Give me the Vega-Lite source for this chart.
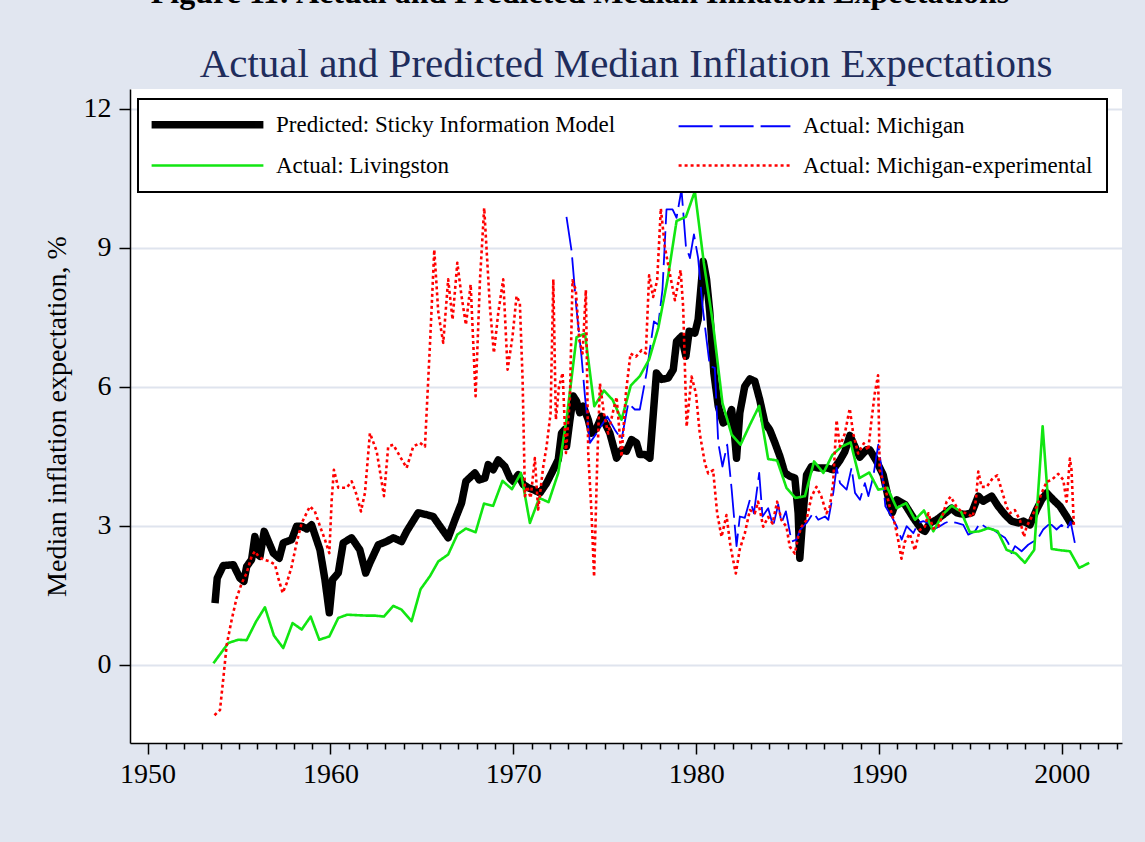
{
  "$schema": "https://vega.github.io/schema/vega-lite/v6.json",
  "width": 992,
  "height": 654,
  "autosize": {"type": "none"},
  "padding": {"left": 130, "top": 89, "right": 23, "bottom": 99},
  "background": "#e1e6f0",
  "view": {"fill": "white", "stroke": null},
  "title": {
    "text": "Figure 11: Actual and Predicted Median Inflation Expectations\u2800\u2800\u2800\u2800",
    "subtitle": "Actual and Predicted Median Inflation Expectations",
    "anchor": "middle",
    "font": "Liberation Serif",
    "fontSize": 32,
    "fontWeight": "bold",
    "color": "black",
    "subtitleFont": "Liberation Serif",
    "subtitleFontSize": 41,
    "subtitleColor": "#1f2d5c",
    "subtitlePadding": 35,
    "offset": 3
  },
  "data": {
    "values": [
      {"s":"A","t":1953.69,"v":1.33},{"s":"A","t":1953.81,"v":1.87},{"s":"A","t":1954.14,"v":2.14},{"s":"A","t":1954.69,"v":2.16},
      {"s":"A","t":1955.05,"v":1.87},{"s":"A","t":1955.27,"v":1.8},{"s":"A","t":1955.42,"v":2.12},{"s":"A","t":1955.69,"v":2.27},
      {"s":"A","t":1955.87,"v":2.77},{"s":"A","t":1956.06,"v":2.37},{"s":"A","t":1956.15,"v":2.34},{"s":"A","t":1956.38,"v":2.88},
      {"s":"A","t":1956.88,"v":2.41},{"s":"A","t":1957.2,"v":2.3},{"s":"A","t":1957.42,"v":2.63},{"s":"A","t":1957.88,"v":2.7},
      {"s":"A","t":1958.15,"v":2.99},{"s":"A","t":1958.43,"v":2.99},{"s":"A","t":1958.7,"v":2.93},{"s":"A","t":1958.97,"v":3.02},
      {"s":"A","t":1959.43,"v":2.48},{"s":"A","t":1959.7,"v":1.84},{"s":"A","t":1959.94,"v":1.12},{"s":"A","t":1960.12,"v":1.84},
      {"s":"A","t":1960.43,"v":1.98},{"s":"A","t":1960.7,"v":2.63},{"s":"A","t":1961.16,"v":2.74},{"s":"A","t":1961.61,"v":2.48},
      {"s":"A","t":1961.93,"v":1.98},{"s":"A","t":1962.16,"v":2.2},{"s":"A","t":1962.62,"v":2.59},{"s":"A","t":1963.07,"v":2.66},
      {"s":"A","t":1963.44,"v":2.74},{"s":"A","t":1963.89,"v":2.66},{"s":"A","t":1964.17,"v":2.88},{"s":"A","t":1964.8,"v":3.28},
      {"s":"A","t":1965.26,"v":3.24},{"s":"A","t":1965.62,"v":3.2},{"s":"A","t":1965.99,"v":2.99},{"s":"A","t":1966.44,"v":2.74},
      {"s":"A","t":1966.81,"v":3.13},{"s":"A","t":1967.17,"v":3.49},{"s":"A","t":1967.41,"v":3.96},{"s":"A","t":1967.9,"v":4.14},
      {"s":"A","t":1968.14,"v":3.99},{"s":"A","t":1968.45,"v":4.03},{"s":"A","t":1968.63,"v":4.32},{"s":"A","t":1968.9,"v":4.21},
      {"s":"A","t":1969.18,"v":4.42},{"s":"A","t":1969.54,"v":4.28},{"s":"A","t":1969.82,"v":4.03},{"s":"A","t":1970.0,"v":3.96},
      {"s":"A","t":1970.27,"v":4.1},{"s":"A","t":1970.55,"v":3.89},{"s":"A","t":1970.82,"v":3.82},{"s":"A","t":1971.09,"v":3.78},
      {"s":"A","t":1971.46,"v":3.71},{"s":"A","t":1971.82,"v":3.92},{"s":"A","t":1972.19,"v":4.21},{"s":"A","t":1972.46,"v":4.43},
      {"s":"A","t":1972.64,"v":5.0},{"s":"A","t":1972.82,"v":5.08},{"s":"A","t":1972.91,"v":4.71},{"s":"A","t":1973.1,"v":5.29},
      {"s":"A","t":1973.28,"v":5.8},{"s":"A","t":1973.46,"v":5.69},{"s":"A","t":1973.64,"v":5.44},{"s":"A","t":1973.83,"v":5.58},
      {"s":"A","t":1974.1,"v":5.29},{"s":"A","t":1974.28,"v":5.0},{"s":"A","t":1974.56,"v":5.11},{"s":"A","t":1974.83,"v":5.36},
      {"s":"A","t":1975.01,"v":5.22},{"s":"A","t":1975.28,"v":5.0},{"s":"A","t":1975.65,"v":4.46},{"s":"A","t":1975.92,"v":4.64},
      {"s":"A","t":1976.19,"v":4.61},{"s":"A","t":1976.47,"v":4.86},{"s":"A","t":1976.74,"v":4.79},{"s":"A","t":1976.92,"v":4.54},
      {"s":"A","t":1977.2,"v":4.54},{"s":"A","t":1977.47,"v":4.46},{"s":"A","t":1977.83,"v":6.3},{"s":"A","t":1978.11,"v":6.16},
      {"s":"A","t":1978.47,"v":6.19},{"s":"A","t":1978.75,"v":6.37},{"s":"A","t":1978.93,"v":6.98},{"s":"A","t":1979.2,"v":7.09},
      {"s":"A","t":1979.44,"v":6.66},{"s":"A","t":1979.62,"v":7.2},{"s":"A","t":1979.93,"v":7.16},{"s":"A","t":1980.11,"v":7.45},
      {"s":"A","t":1980.39,"v":8.71},{"s":"A","t":1980.57,"v":8.32},{"s":"A","t":1980.75,"v":7.6},{"s":"A","t":1980.97,"v":6.3},
      {"s":"A","t":1981.21,"v":5.58},{"s":"A","t":1981.48,"v":5.22},{"s":"A","t":1981.75,"v":5.29},{"s":"A","t":1981.94,"v":5.51},
      {"s":"A","t":1982.06,"v":5.15},{"s":"A","t":1982.21,"v":4.46},{"s":"A","t":1982.39,"v":5.44},{"s":"A","t":1982.66,"v":6.01},
      {"s":"A","t":1982.94,"v":6.17},{"s":"A","t":1983.21,"v":6.12},{"s":"A","t":1983.48,"v":5.72},{"s":"A","t":1983.76,"v":5.22},
      {"s":"A","t":1984.03,"v":5.07},{"s":"A","t":1984.31,"v":4.79},{"s":"A","t":1984.58,"v":4.5},{"s":"A","t":1984.85,"v":4.14},
      {"s":"A","t":1985.13,"v":4.07},{"s":"A","t":1985.4,"v":4.03},{"s":"A","t":1985.58,"v":3.27},{"s":"A","t":1985.67,"v":2.3},
      {"s":"A","t":1985.85,"v":3.27},{"s":"A","t":1986.04,"v":4.1},{"s":"A","t":1986.31,"v":4.28},{"s":"A","t":1986.67,"v":4.25},
      {"s":"A","t":1987.13,"v":4.25},{"s":"A","t":1987.49,"v":4.21},{"s":"A","t":1987.86,"v":4.41},{"s":"A","t":1988.13,"v":4.6},
      {"s":"A","t":1988.41,"v":4.95},{"s":"A","t":1988.68,"v":4.71},{"s":"A","t":1988.95,"v":4.48},{"s":"A","t":1989.32,"v":4.64},
      {"s":"A","t":1989.5,"v":4.64},{"s":"A","t":1989.86,"v":4.4},{"s":"A","t":1990.23,"v":4.1},{"s":"A","t":1990.5,"v":3.62},
      {"s":"A","t":1990.72,"v":3.28},{"s":"A","t":1990.97,"v":3.56},{"s":"A","t":1991.42,"v":3.46},{"s":"A","t":1991.88,"v":3.17},
      {"s":"A","t":1992.33,"v":2.92},{"s":"A","t":1992.51,"v":2.88},{"s":"A","t":1992.79,"v":3.06},{"s":"A","t":1993.15,"v":3.13},
      {"s":"A","t":1993.52,"v":3.24},{"s":"A","t":1993.97,"v":3.38},{"s":"A","t":1994.25,"v":3.28},{"s":"A","t":1994.7,"v":3.24},
      {"s":"A","t":1995.07,"v":3.28},{"s":"A","t":1995.43,"v":3.64},{"s":"A","t":1995.7,"v":3.53},{"s":"A","t":1996.16,"v":3.64},
      {"s":"A","t":1996.52,"v":3.42},{"s":"A","t":1996.89,"v":3.24},{"s":"A","t":1997.25,"v":3.1},{"s":"A","t":1997.62,"v":3.06},
      {"s":"A","t":1997.89,"v":3.1},{"s":"A","t":1998.26,"v":3.02},{"s":"A","t":1998.62,"v":3.35},{"s":"A","t":1998.89,"v":3.56},
      {"s":"A","t":1999.17,"v":3.71},{"s":"A","t":1999.53,"v":3.56},{"s":"A","t":1999.9,"v":3.42},{"s":"A","t":2000.26,"v":3.2},
      {"s":"A","t":2000.53,"v":3.02},

      {"s":"B","t":1972.91,"v":9.67},{"s":"B","t":1973.19,"v":8.93},{"s":"B","t":1973.46,"v":7.67},{"s":"B","t":1973.73,"v":6.66},
      {"s":"B","t":1973.92,"v":5.8},{"s":"B","t":1974.19,"v":4.79},{"s":"B","t":1974.56,"v":5.0},{"s":"B","t":1975.14,"v":5.36},
      {"s":"B","t":1975.56,"v":5.07},{"s":"B","t":1975.92,"v":4.86},{"s":"B","t":1976.29,"v":5.65},{"s":"B","t":1976.65,"v":5.51},
      {"s":"B","t":1976.92,"v":5.51},{"s":"B","t":1977.29,"v":6.3},{"s":"B","t":1977.69,"v":7.41},{"s":"B","t":1977.93,"v":7.34},
      {"s":"B","t":1978.16,"v":8.1},{"s":"B","t":1978.38,"v":9.83},{"s":"B","t":1978.71,"v":9.83},{"s":"B","t":1978.93,"v":9.65},
      {"s":"B","t":1979.2,"v":10.26},{"s":"B","t":1979.44,"v":9.04},{"s":"B","t":1979.66,"v":8.78},{"s":"B","t":1979.88,"v":9.29},
      {"s":"B","t":1980.11,"v":8.78},{"s":"B","t":1980.35,"v":7.74},{"s":"B","t":1980.57,"v":7.02},{"s":"B","t":1980.75,"v":6.44},
      {"s":"B","t":1981.02,"v":6.41},{"s":"B","t":1981.21,"v":4.79},{"s":"B","t":1981.44,"v":4.28},{"s":"B","t":1981.7,"v":4.75},
      {"s":"B","t":1981.94,"v":3.8},{"s":"B","t":1982.21,"v":2.56},{"s":"B","t":1982.39,"v":3.2},{"s":"B","t":1982.66,"v":3.17},
      {"s":"B","t":1982.94,"v":3.56},{"s":"B","t":1983.16,"v":3.27},{"s":"B","t":1983.45,"v":4.14},{"s":"B","t":1983.63,"v":3.2},
      {"s":"B","t":1983.94,"v":3.38},{"s":"B","t":1984.21,"v":2.99},{"s":"B","t":1984.49,"v":3.46},{"s":"B","t":1984.67,"v":3.06},
      {"s":"B","t":1984.91,"v":3.31},{"s":"B","t":1985.22,"v":2.66},{"s":"B","t":1985.49,"v":2.7},{"s":"B","t":1985.68,"v":2.91},
      {"s":"B","t":1986.04,"v":3.06},{"s":"B","t":1986.41,"v":3.28},{"s":"B","t":1986.68,"v":3.13},{"s":"B","t":1987.05,"v":3.2},
      {"s":"B","t":1987.23,"v":3.13},{"s":"B","t":1987.5,"v":3.71},{"s":"B","t":1987.68,"v":4.25},{"s":"B","t":1987.87,"v":3.92},
      {"s":"B","t":1988.23,"v":3.78},{"s":"B","t":1988.5,"v":4.25},{"s":"B","t":1988.69,"v":3.71},{"s":"B","t":1988.96,"v":3.56},
      {"s":"B","t":1989.23,"v":3.92},{"s":"B","t":1989.42,"v":3.64},{"s":"B","t":1989.69,"v":4.07},{"s":"B","t":1989.96,"v":4.75},
      {"s":"B","t":1990.15,"v":4.21},{"s":"B","t":1990.35,"v":3.42},{"s":"B","t":1990.69,"v":3.2},{"s":"B","t":1990.97,"v":2.99},
      {"s":"B","t":1991.24,"v":2.7},{"s":"B","t":1991.51,"v":2.99},{"s":"B","t":1991.88,"v":2.84},{"s":"B","t":1992.15,"v":3.06},
      {"s":"B","t":1992.42,"v":3.1},{"s":"B","t":1992.7,"v":3.06},{"s":"B","t":1992.97,"v":2.92},{"s":"B","t":1993.33,"v":2.99},
      {"s":"B","t":1993.61,"v":3.06},{"s":"B","t":1993.88,"v":3.1},{"s":"B","t":1994.25,"v":3.06},{"s":"B","t":1994.61,"v":3.02},
      {"s":"B","t":1994.88,"v":2.81},{"s":"B","t":1995.25,"v":2.88},{"s":"B","t":1995.52,"v":3.06},{"s":"B","t":1995.89,"v":2.95},
      {"s":"B","t":1996.25,"v":2.92},{"s":"B","t":1996.61,"v":2.81},{"s":"B","t":1996.89,"v":2.74},{"s":"B","t":1997.07,"v":2.63},
      {"s":"B","t":1997.25,"v":2.41},{"s":"B","t":1997.44,"v":2.56},{"s":"B","t":1997.8,"v":2.45},{"s":"B","t":1998.16,"v":2.59},
      {"s":"B","t":1998.44,"v":2.66},{"s":"B","t":1998.71,"v":2.74},{"s":"B","t":1998.98,"v":2.92},{"s":"B","t":1999.26,"v":3.02},
      {"s":"B","t":1999.44,"v":3.02},{"s":"B","t":1999.71,"v":2.92},{"s":"B","t":1999.98,"v":3.02},{"s":"B","t":2000.26,"v":2.91},
      {"s":"B","t":2000.48,"v":3.09},{"s":"B","t":2000.71,"v":2.63},

      {"s":"C","t":1953.6,"v":0.03},{"s":"C","t":1954.42,"v":0.47},{"s":"C","t":1954.96,"v":0.54},{"s":"C","t":1955.42,"v":0.53},
      {"s":"C","t":1955.93,"v":0.93},{"s":"C","t":1956.42,"v":1.24},{"s":"C","t":1956.91,"v":0.63},{"s":"C","t":1957.42,"v":0.36},
      {"s":"C","t":1957.93,"v":0.9},{"s":"C","t":1958.43,"v":0.76},{"s":"C","t":1958.92,"v":1.04},{"s":"C","t":1959.39,"v":0.54},
      {"s":"C","t":1959.94,"v":0.61},{"s":"C","t":1960.43,"v":1.01},{"s":"C","t":1960.92,"v":1.08},{"s":"C","t":1961.43,"v":1.07},
      {"s":"C","t":1961.98,"v":1.06},{"s":"C","t":1962.43,"v":1.06},{"s":"C","t":1962.93,"v":1.04},{"s":"C","t":1963.44,"v":1.27},
      {"s":"C","t":1963.89,"v":1.19},{"s":"C","t":1964.44,"v":0.94},{"s":"C","t":1964.93,"v":1.63},{"s":"C","t":1965.44,"v":1.91},
      {"s":"C","t":1965.9,"v":2.23},{"s":"C","t":1966.44,"v":2.38},{"s":"C","t":1966.94,"v":2.81},{"s":"C","t":1967.41,"v":2.94},
      {"s":"C","t":1967.94,"v":2.86},{"s":"C","t":1968.4,"v":3.48},{"s":"C","t":1968.9,"v":3.43},{"s":"C","t":1969.41,"v":3.97},
      {"s":"C","t":1969.93,"v":3.79},{"s":"C","t":1970.42,"v":4.14},{"s":"C","t":1970.91,"v":3.06},{"s":"C","t":1971.42,"v":3.6},
      {"s":"C","t":1971.93,"v":3.51},{"s":"C","t":1972.46,"v":4.14},{"s":"C","t":1972.93,"v":5.35},{"s":"C","t":1973.46,"v":7.07},
      {"s":"C","t":1973.92,"v":7.15},{"s":"C","t":1974.43,"v":5.58},{"s":"C","t":1974.96,"v":5.92},{"s":"C","t":1975.43,"v":5.72},
      {"s":"C","t":1975.92,"v":5.29},{"s":"C","t":1976.43,"v":6.03},{"s":"C","t":1976.92,"v":6.23},{"s":"C","t":1977.43,"v":6.59},
      {"s":"C","t":1977.93,"v":7.27},{"s":"C","t":1978.44,"v":8.32},{"s":"C","t":1978.93,"v":9.58},{"s":"C","t":1979.44,"v":9.67},
      {"s":"C","t":1979.93,"v":10.22},{"s":"C","t":1980.42,"v":8.68},{"s":"C","t":1980.93,"v":7.34},{"s":"C","t":1981.44,"v":5.65},
      {"s":"C","t":1981.94,"v":4.97},{"s":"C","t":1982.43,"v":4.75},{"s":"C","t":1982.94,"v":5.18},{"s":"C","t":1983.45,"v":5.59},
      {"s":"C","t":1983.94,"v":4.44},{"s":"C","t":1984.43,"v":4.41},{"s":"C","t":1984.94,"v":3.82},{"s":"C","t":1985.43,"v":3.6},
      {"s":"C","t":1985.95,"v":3.64},{"s":"C","t":1986.45,"v":4.39},{"s":"C","t":1986.96,"v":4.14},{"s":"C","t":1987.45,"v":4.53},
      {"s":"C","t":1987.96,"v":4.71},{"s":"C","t":1988.45,"v":4.8},{"s":"C","t":1988.93,"v":4.03},{"s":"C","t":1989.47,"v":4.15},
      {"s":"C","t":1989.96,"v":3.78},{"s":"C","t":1990.46,"v":3.82},{"s":"C","t":1990.97,"v":3.38},{"s":"C","t":1991.48,"v":3.49},
      {"s":"C","t":1991.97,"v":3.13},{"s":"C","t":1992.46,"v":3.33},{"s":"C","t":1992.97,"v":2.88},{"s":"C","t":1993.48,"v":3.24},
      {"s":"C","t":1993.97,"v":3.43},{"s":"C","t":1994.48,"v":3.31},{"s":"C","t":1994.97,"v":2.86},{"s":"C","t":1995.48,"v":2.88},
      {"s":"C","t":1995.98,"v":2.95},{"s":"C","t":1996.49,"v":2.88},{"s":"C","t":1996.98,"v":2.48},{"s":"C","t":1997.49,"v":2.4},
      {"s":"C","t":1997.98,"v":2.2},{"s":"C","t":1998.49,"v":2.48},{"s":"C","t":1998.95,"v":5.15},{"s":"C","t":1999.44,"v":2.5},
      {"s":"C","t":1999.95,"v":2.47},{"s":"C","t":2000.44,"v":2.45},{"s":"C","t":2000.95,"v":2.09},{"s":"C","t":2001.5,"v":2.2},

      {"s":"D","t":1953.66,"v":-1.09},{"s":"D","t":1953.96,"v":-0.98},{"s":"D","t":1954.1,"v":-0.46},{"s":"D","t":1954.33,"v":0.43},
      {"s":"D","t":1954.6,"v":0.97},{"s":"D","t":1954.87,"v":1.44},{"s":"D","t":1955.15,"v":1.76},{"s":"D","t":1955.42,"v":1.98},
      {"s":"D","t":1955.69,"v":2.34},{"s":"D","t":1955.87,"v":2.45},{"s":"D","t":1956.06,"v":2.34},{"s":"D","t":1956.33,"v":2.27},
      {"s":"D","t":1956.69,"v":2.23},{"s":"D","t":1956.97,"v":2.16},{"s":"D","t":1957.15,"v":1.87},{"s":"D","t":1957.39,"v":1.55},
      {"s":"D","t":1957.61,"v":1.76},{"s":"D","t":1957.88,"v":2.12},{"s":"D","t":1958.15,"v":2.63},{"s":"D","t":1958.43,"v":3.06},
      {"s":"D","t":1958.88,"v":3.42},{"s":"D","t":1959.15,"v":3.31},{"s":"D","t":1959.43,"v":2.99},{"s":"D","t":1959.7,"v":2.7},
      {"s":"D","t":1959.94,"v":2.41},{"s":"D","t":1960.07,"v":3.56},{"s":"D","t":1960.19,"v":4.21},{"s":"D","t":1960.43,"v":3.82},
      {"s":"D","t":1960.89,"v":3.82},{"s":"D","t":1961.16,"v":3.96},{"s":"D","t":1961.43,"v":3.67},{"s":"D","t":1961.67,"v":3.31},
      {"s":"D","t":1961.89,"v":3.71},{"s":"D","t":1962.16,"v":5.0},{"s":"D","t":1962.53,"v":4.61},{"s":"D","t":1962.93,"v":3.64},
      {"s":"D","t":1963.16,"v":4.71},{"s":"D","t":1963.44,"v":4.75},{"s":"D","t":1963.8,"v":4.5},{"s":"D","t":1964.17,"v":4.25},
      {"s":"D","t":1964.53,"v":4.71},{"s":"D","t":1964.9,"v":4.79},{"s":"D","t":1965.17,"v":4.71},{"s":"D","t":1965.26,"v":5.43},
      {"s":"D","t":1965.44,"v":6.88},{"s":"D","t":1965.68,"v":8.96},{"s":"D","t":1965.9,"v":7.6},{"s":"D","t":1966.17,"v":6.95},
      {"s":"D","t":1966.44,"v":8.32},{"s":"D","t":1966.68,"v":7.45},{"s":"D","t":1966.94,"v":8.68},{"s":"D","t":1967.17,"v":7.96},
      {"s":"D","t":1967.41,"v":7.34},{"s":"D","t":1967.67,"v":8.21},{"s":"D","t":1967.94,"v":5.8},{"s":"D","t":1968.18,"v":8.32},
      {"s":"D","t":1968.41,"v":9.86},{"s":"D","t":1968.72,"v":7.74},{"s":"D","t":1968.94,"v":6.73},{"s":"D","t":1969.18,"v":7.6},
      {"s":"D","t":1969.45,"v":8.32},{"s":"D","t":1969.69,"v":6.37},{"s":"D","t":1969.96,"v":7.09},{"s":"D","t":1970.18,"v":7.96},
      {"s":"D","t":1970.36,"v":7.81},{"s":"D","t":1970.51,"v":6.16},{"s":"D","t":1970.64,"v":3.64},{"s":"D","t":1970.76,"v":3.85},
      {"s":"D","t":1970.95,"v":3.6},{"s":"D","t":1971.18,"v":4.46},{"s":"D","t":1971.36,"v":3.35},{"s":"D","t":1971.64,"v":4.28},
      {"s":"D","t":1971.82,"v":4.71},{"s":"D","t":1972.04,"v":5.43},{"s":"D","t":1972.19,"v":8.32},{"s":"D","t":1972.33,"v":5.29},
      {"s":"D","t":1972.5,"v":6.0},{"s":"D","t":1972.7,"v":6.3},{"s":"D","t":1972.88,"v":4.57},{"s":"D","t":1973.1,"v":5.78},
      {"s":"D","t":1973.24,"v":8.3},{"s":"D","t":1973.42,"v":8.09},{"s":"D","t":1973.61,"v":7.01},{"s":"D","t":1973.79,"v":6.72},
      {"s":"D","t":1973.97,"v":8.09},{"s":"D","t":1974.1,"v":4.56},{"s":"D","t":1974.28,"v":3.27},{"s":"D","t":1974.42,"v":1.9},
      {"s":"D","t":1974.59,"v":4.35},{"s":"D","t":1974.74,"v":6.07},{"s":"D","t":1974.96,"v":5.42},{"s":"D","t":1975.19,"v":4.99},
      {"s":"D","t":1975.43,"v":5.42},{"s":"D","t":1975.65,"v":5.78},{"s":"D","t":1975.92,"v":4.49},{"s":"D","t":1976.16,"v":5.86},
      {"s":"D","t":1976.41,"v":6.72},{"s":"D","t":1976.71,"v":6.65},{"s":"D","t":1977.02,"v":6.79},{"s":"D","t":1977.25,"v":6.72},
      {"s":"D","t":1977.43,"v":8.41},{"s":"D","t":1977.65,"v":7.94},{"s":"D","t":1977.87,"v":8.3},{"s":"D","t":1978.07,"v":9.85},
      {"s":"D","t":1978.29,"v":9.02},{"s":"D","t":1978.56,"v":8.45},{"s":"D","t":1978.84,"v":7.87},{"s":"D","t":1979.15,"v":8.52},
      {"s":"D","t":1979.29,"v":7.73},{"s":"D","t":1979.48,"v":5.14},{"s":"D","t":1979.75,"v":6.22},{"s":"D","t":1979.99,"v":5.86},
      {"s":"D","t":1980.2,"v":4.99},{"s":"D","t":1980.48,"v":4.35},{"s":"D","t":1980.66,"v":4.13},{"s":"D","t":1980.93,"v":4.2},
      {"s":"D","t":1981.15,"v":3.27},{"s":"D","t":1981.39,"v":2.76},{"s":"D","t":1981.66,"v":3.23},{"s":"D","t":1981.88,"v":2.55},
      {"s":"D","t":1982.17,"v":1.97},{"s":"D","t":1982.39,"v":2.5},{"s":"D","t":1982.66,"v":2.83},{"s":"D","t":1982.94,"v":3.34},
      {"s":"D","t":1983.21,"v":3.27},{"s":"D","t":1983.39,"v":3.52},{"s":"D","t":1983.67,"v":2.98},{"s":"D","t":1983.94,"v":3.19},
      {"s":"D","t":1984.18,"v":3.05},{"s":"D","t":1984.43,"v":3.52},{"s":"D","t":1984.67,"v":3.12},{"s":"D","t":1984.94,"v":2.98},
      {"s":"D","t":1985.12,"v":2.55},{"s":"D","t":1985.4,"v":2.4},{"s":"D","t":1985.58,"v":2.76},{"s":"D","t":1985.76,"v":2.98},
      {"s":"D","t":1986.03,"v":3.12},{"s":"D","t":1986.31,"v":3.63},{"s":"D","t":1986.58,"v":3.84},{"s":"D","t":1986.85,"v":3.63},
      {"s":"D","t":1987.13,"v":3.27},{"s":"D","t":1987.31,"v":3.41},{"s":"D","t":1987.49,"v":3.91},{"s":"D","t":1987.68,"v":5.28},
      {"s":"D","t":1987.86,"v":4.71},{"s":"D","t":1988.13,"v":4.99},{"s":"D","t":1988.4,"v":5.53},{"s":"D","t":1988.59,"v":4.99},
      {"s":"D","t":1988.86,"v":4.56},{"s":"D","t":1989.17,"v":4.78},{"s":"D","t":1989.41,"v":4.63},{"s":"D","t":1989.59,"v":5.28},
      {"s":"D","t":1989.77,"v":5.86},{"s":"D","t":1989.95,"v":6.25},{"s":"D","t":1990.04,"v":4.2},{"s":"D","t":1990.32,"v":3.84},
      {"s":"D","t":1990.59,"v":3.41},{"s":"D","t":1990.86,"v":3.05},{"s":"D","t":1991.05,"v":2.69},{"s":"D","t":1991.23,"v":2.29},
      {"s":"D","t":1991.41,"v":2.65},{"s":"D","t":1991.68,"v":2.83},{"s":"D","t":1991.96,"v":2.47},{"s":"D","t":1992.23,"v":2.91},
      {"s":"D","t":1992.51,"v":2.98},{"s":"D","t":1992.7,"v":3.27},{"s":"D","t":1992.97,"v":2.94},{"s":"D","t":1993.24,"v":2.98},
      {"s":"D","t":1993.52,"v":3.27},{"s":"D","t":1993.7,"v":3.52},{"s":"D","t":1993.92,"v":3.63},{"s":"D","t":1994.24,"v":3.41},
      {"s":"D","t":1994.52,"v":3.3},{"s":"D","t":1994.79,"v":3.27},{"s":"D","t":1995.12,"v":3.19},{"s":"D","t":1995.3,"v":3.55},
      {"s":"D","t":1995.43,"v":4.17},{"s":"D","t":1995.61,"v":3.84},{"s":"D","t":1995.89,"v":3.84},{"s":"D","t":1996.21,"v":4.02},
      {"s":"D","t":1996.47,"v":4.09},{"s":"D","t":1996.71,"v":3.77},{"s":"D","t":1996.98,"v":3.41},{"s":"D","t":1997.16,"v":3.27},
      {"s":"D","t":1997.43,"v":3.34},{"s":"D","t":1997.71,"v":3.12},{"s":"D","t":1997.93,"v":2.76},{"s":"D","t":1998.07,"v":2.98},
      {"s":"D","t":1998.35,"v":3.19},{"s":"D","t":1998.62,"v":3.41},{"s":"D","t":1998.89,"v":3.7},{"s":"D","t":1999.17,"v":3.95},
      {"s":"D","t":1999.44,"v":3.99},{"s":"D","t":1999.8,"v":4.12},{"s":"D","t":2000.08,"v":3.99},{"s":"D","t":2000.26,"v":3.52},
      {"s":"D","t":2000.44,"v":4.45},{"s":"D","t":2000.53,"v":4.2},{"s":"D","t":2000.66,"v":2.98}
    ]
  },
  "mark": {"type": "line", "strokeJoin": "round", "clip": true},
  "encoding": {
    "x": {
      "field": "t",
      "type": "quantitative",
      "scale": {"domain": [1949.04, 2003.29], "nice": false, "zero": false},
      "axis": {
        "title": null,
        "values": [1950,1951,1952,1953,1954,1955,1956,1957,1958,1959,1960,1961,1962,1963,1964,1965,1966,1967,1968,1969,1970,1971,1972,1973,1974,1975,1976,1977,1978,1979,1980,1981,1982,1983,1984,1985,1986,1987,1988,1989,1990,1991,1992,1993,1994,1995,1996,1997,1998,1999,2000,2001,2002,2003],
        "format": "d",
        "labelExpr": "datum.value % 10 === 0 ? datum.label : ''",
        "tickSize": {"condition": {"test": "datum.value % 10 === 0", "value": 11}, "value": 6},
        "labelPadding": 6,
        "grid": false,
        "labelFlush": false,
        "labelOverlap": false
      }
    },
    "y": {
      "field": "v",
      "type": "quantitative",
      "scale": {"domain": [-1.69, 12.43], "nice": false, "zero": false},
      "axis": {
        "title": "Median inflation expectation, %",
        "values": [0, 3, 6, 9, 12],
        "tickSize": 11,
        "labelPadding": 8,
        "titlePadding": 12,
        "grid": true,
        "gridColor": "#dfe4ee",
        "gridWidth": 2
      }
    },
    "color": {
      "field": "s",
      "type": "nominal",
      "scale": {"domain": ["A", "C", "B", "D"], "range": ["#000000", "#11e611", "#0000ff", "#ff0000"]},
      "legend": {
        "title": null,
        "orient": "none",
        "legendX": 8,
        "legendY": 10,
        "columns": 2,
        "labelExpr": "{'A': 'Predicted: Sticky Information Model', 'B': 'Actual: Michigan', 'C': 'Actual: Livingston', 'D': 'Actual: Michigan-experimental'}[datum.label]",
        "encode": {
          "symbols": {
            "update": {
              "strokeWidth": {"signal": "datum.value === 'A' ? 7.5 : datum.value === 'B' ? 1.8 : 2.6"}
            }
          }
        }
      }
    },
    "strokeDash": {
      "field": "s",
      "type": "nominal",
      "scale": {"domain": ["A", "C", "B", "D"], "range": [[1, 0], [1, 0], [34, 7], [3, 3]]},
      "legend": {
        "title": null,
        "orient": "none",
        "legendX": 8,
        "legendY": 10,
        "columns": 2,
        "labelExpr": "{'A': 'Predicted: Sticky Information Model', 'B': 'Actual: Michigan', 'C': 'Actual: Livingston', 'D': 'Actual: Michigan-experimental'}[datum.label]"
      }
    },
    "strokeWidth": {
      "condition": [
        {"test": "datum.s === 'A'", "value": 7.5},
        {"test": "datum.s === 'B'", "value": 1.8}
      ],
      "value": 2.6
    }
  },
  "config": {
    "font": "Liberation Serif",
    "axis": {
      "labelFont": "Liberation Serif",
      "labelFontSize": 28,
      "labelColor": "black",
      "titleFont": "Liberation Serif",
      "titleFontSize": 28,
      "titleFontWeight": "normal",
      "titleColor": "black",
      "domainColor": "black",
      "domainWidth": 1.5,
      "tickColor": "black",
      "tickWidth": 1.5
    },
    "legend": {
      "labelFont": "Liberation Serif",
      "labelFontSize": 23,
      "labelColor": "black",
      "labelLimit": 700,
      "symbolType": "M-5,0H5",
      "symbolSize": 500,
      "symbolStrokeWidth": 1.5,
      "symbolOffset": 44,
      "labelOffset": 57,
      "columnPadding": 57,
      "rowPadding": 14,
      "padding": 14,
      "strokeColor": "black",
      "strokeWidth": 2,
      "fillColor": "white"
    }
  }
}
